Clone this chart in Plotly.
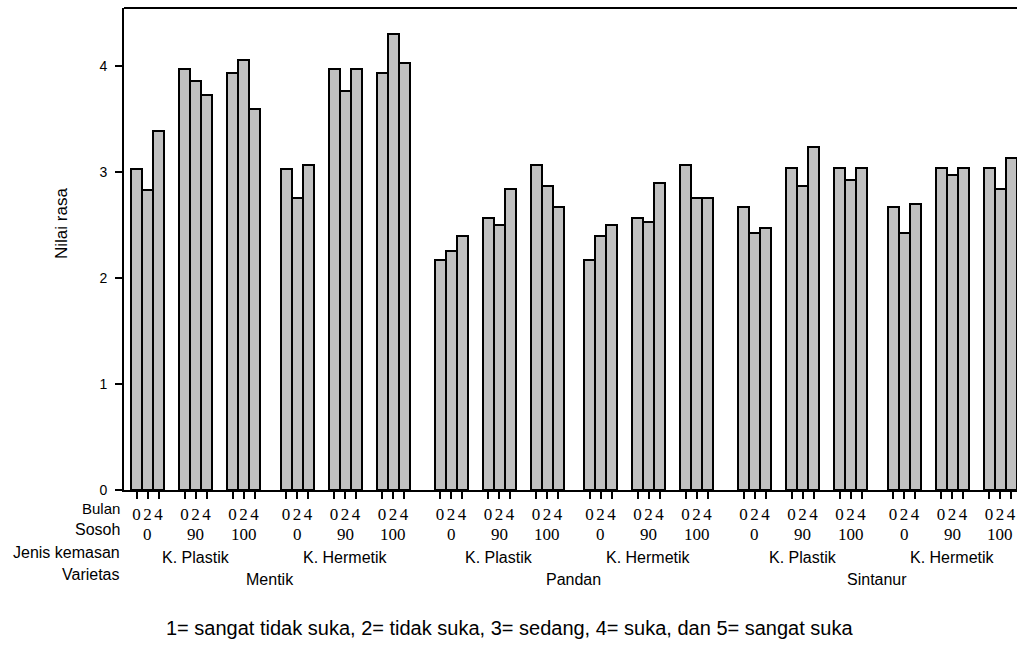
import plotly.graph_objects as go

# Kategori sumbu
varietas = ["Mentik", "Pandan", "Sintanur"]
kemasan = ["K. Plastik", "K. Hermetik"]
sosoh = ["0", "90", "100"]
bulan = ["0", "2", "4"]

# Nilai rasa rata-rata: [kemasan][sosoh][bulan]
nilai_mentik = [
    [[3.03, 2.83, 3.39], [3.97, 3.86, 3.73], [3.94, 4.06, 3.60]],
    [[3.03, 2.76, 3.07], [3.97, 3.77, 3.97], [3.94, 4.30, 4.03]],
]
nilai_pandan = [
    [[2.17, 2.26, 2.40], [2.57, 2.50, 2.84], [3.07, 2.87, 2.67]],
    [[2.17, 2.40, 2.50], [2.57, 2.53, 2.90], [3.07, 2.76, 2.76]],
]
nilai_sintanur = [
    [[2.67, 2.43, 2.47], [3.04, 2.87, 3.24], [3.04, 2.93, 3.04]],
    [[2.67, 2.43, 2.70], [3.04, 2.97, 3.04], [3.04, 2.84, 3.13]],
]
nilai = [nilai_mentik, nilai_pandan, nilai_sintanur]

keterangan = "1= sangat tidak suka, 2= tidak suka, 3= sedang, 4= suka, dan 5= sangat suka"

# Tata letak batang (satuan sumbu x = piksel)
BAR_W = 11
GAP_SOSOH = 15
GAP_KEMASAN = 20.5
GAP_VARIETAS = 25

SANS = "Liberation Sans, Arial, sans-serif"
SERIF = "Liberation Serif, Times New Roman, serif"

xs, ys, labels = [], [], []
sosoh_pos, kemasan_pos, varietas_pos = [], [], []
pos = 0.0
for vi, v in enumerate(varietas):
    if vi > 0:
        pos += GAP_VARIETAS
    kem_centers = []
    for ki, k in enumerate(kemasan):
        if ki > 0:
            pos += GAP_KEMASAN
        for si, s in enumerate(sosoh):
            if si > 0:
                pos += GAP_SOSOH
            for bi, b in enumerate(bulan):
                c = pos + BAR_W * (bi + 0.5)
                xs.append(c)
                ys.append(nilai[vi][ki][si][bi])
                labels.append(b)
                if bi == 1:
                    sosoh_pos.append((c, s))
                    if si == 1:
                        kem_centers.append(c)
                        kemasan_pos.append((c, k))
            pos += BAR_W * len(bulan)
    varietas_pos.append((sum(kem_centers) / len(kem_centers), v))

fig = go.Figure(
    go.Bar(
        x=xs,
        y=ys,
        width=BAR_W,
        marker=dict(color="#c0c0c0", line=dict(color="black", width=2)),
        showlegend=False,
        hoverinfo="x+y",
    )
)

PLOT_LEFT, PLOT_TOP, PLOT_BOTTOM, W, H = 124, 8, 490, 1017, 647

fig.update_layout(
    width=W,
    height=H,
    margin=dict(l=PLOT_LEFT, r=0, t=PLOT_TOP, b=H - PLOT_BOTTOM, pad=0),
    paper_bgcolor="white",
    plot_bgcolor="white",
    bargap=0,
    xaxis=dict(
        range=[-7, 886],
        tickmode="array",
        tickvals=xs,
        ticktext=labels,
        ticks="outside",
        ticklen=7,
        tickwidth=1.5,
        tickcolor="black",
        tickfont=dict(family=SERIF, size=17, color="black"),
        ticklabelstandoff=1,
        showgrid=False,
        zeroline=False,
        showline=True,
        linewidth=2,
        linecolor="black",
        fixedrange=True,
    ),
    yaxis=dict(
        range=[0, 4.55],
        tickmode="array",
        tickvals=[0, 1, 2, 3, 4],
        ticktext=["0", "1", "2", "3", "4"],
        ticks="outside",
        ticklen=7,
        tickwidth=1.5,
        tickcolor="black",
        tickfont=dict(family=SANS, size=14, color="black"),
        ticklabelstandoff=5,
        showgrid=False,
        zeroline=False,
        showline=True,
        linewidth=2,
        linecolor="black",
        fixedrange=True,
    ),
)

# Garis bingkai atas
fig.add_shape(type="line", xref="paper", yref="paper", x0=0, x1=1, y0=1, y1=1,
              line=dict(color="black", width=2))


def label(text, x, xref, py, family=SANS, size=16, xanchor="center", xshift=0):
    fig.add_annotation(
        text=text, x=x, xref=xref, y=0, yref="paper", yanchor="middle",
        yshift=PLOT_BOTTOM - py, xanchor=xanchor, xshift=xshift, showarrow=False,
        borderpad=0, font=dict(family=family, size=size, color="black"),
    )


# Judul baris di sisi kiri
for text, py, size in [("Bulan", 508, 15), ("Sosoh", 529, 16),
                       ("Jenis kemasan", 552, 16), ("Varietas", 574, 16)]:
    label(text, 0, "paper", py, size=size, xanchor="right", xshift=-3)

for c, s in sosoh_pos:
    label(s, c, "x", 534, family=SERIF, size=17)
for c, k in kemasan_pos:
    label(k, c, "x", 557)
for c, v in varietas_pos:
    label(v, c, "x", 579)

# Judul sumbu y
fig.add_annotation(
    text="Nilai rasa", xref="paper", x=0, xshift=62 - PLOT_LEFT, xanchor="center",
    yref="paper", y=(PLOT_BOTTOM - 224) / (PLOT_BOTTOM - PLOT_TOP), yanchor="middle",
    textangle=-90, showarrow=False, font=dict(family=SANS, size=17, color="black"),
)

# Keterangan skala
fig.add_annotation(
    text=keterangan, xref="paper", x=(509 - PLOT_LEFT) / (W - PLOT_LEFT), xanchor="center",
    yref="paper", y=0, yshift=PLOT_BOTTOM - 628, yanchor="middle",
    showarrow=False, font=dict(family=SANS, size=20, color="black"),
)

fig.write_html("out.html")
